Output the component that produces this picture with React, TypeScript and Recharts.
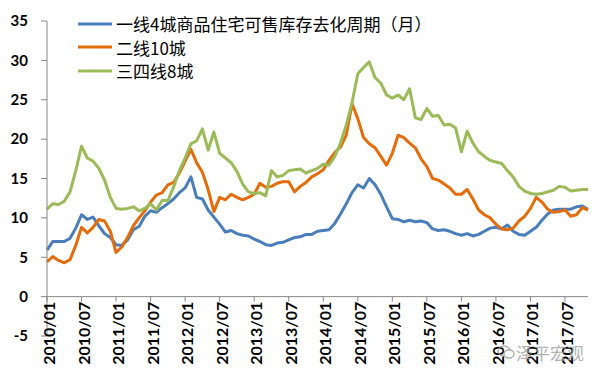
import React from 'react';
import { LineChart, Line, XAxis, YAxis, ReferenceLine, Legend } from 'recharts';

const MONTHS: string[] = [
  '2010/01','2010/02','2010/03','2010/04','2010/05','2010/06','2010/07','2010/08','2010/09','2010/10','2010/11','2010/12',
  '2011/01','2011/02','2011/03','2011/04','2011/05','2011/06','2011/07','2011/08','2011/09','2011/10','2011/11','2011/12',
  '2012/01','2012/02','2012/03','2012/04','2012/05','2012/06','2012/07','2012/08','2012/09','2012/10','2012/11','2012/12',
  '2013/01','2013/02','2013/03','2013/04','2013/05','2013/06','2013/07','2013/08','2013/09','2013/10','2013/11','2013/12',
  '2014/01','2014/02','2014/03','2014/04','2014/05','2014/06','2014/07','2014/08','2014/09','2014/10','2014/11','2014/12',
  '2015/01','2015/02','2015/03','2015/04','2015/05','2015/06','2015/07','2015/08','2015/09','2015/10','2015/11','2015/12',
  '2016/01','2016/02','2016/03','2016/04','2016/05','2016/06','2016/07','2016/08','2016/09','2016/10','2016/11','2016/12',
  '2017/01','2017/02','2017/03','2017/04','2017/05','2017/06','2017/07','2017/08','2017/09','2017/10','2017/11',
];

const TIER1: number[] = [
  5.9, 7.0, 7.0, 7.0, 7.4, 8.7, 10.4, 9.8, 10.1, 9.0, 8.0, 7.5,
  6.6, 6.5, 7.2, 8.5, 8.9, 10.2, 10.9, 10.7, 11.3, 11.8, 12.4, 13.2,
  13.8, 15.2, 12.6, 12.4, 11.0, 10.1, 9.2, 8.2, 8.4, 8.0, 7.8, 7.7,
  7.3, 7.0, 6.6, 6.5, 6.8, 6.9, 7.2, 7.5, 7.6, 7.9, 7.9, 8.3,
  8.4, 8.5, 9.3, 10.5, 11.8, 13.2, 14.2, 13.8, 15.0, 14.2, 13.0, 11.4,
  9.9, 9.8, 9.5, 9.7, 9.5, 9.6, 9.4, 8.6, 8.4, 8.5, 8.3, 8.0,
  7.8, 8.0, 7.7, 7.9, 8.3, 8.7, 8.8, 8.6, 9.1, 8.3, 7.9, 7.8,
  8.3, 8.8, 9.7, 10.5, 11.0, 11.1, 11.1, 11.1, 11.4, 11.5, 11.1,
];

const TIER2: number[] = [
  4.4, 5.1, 4.6, 4.3, 4.7, 6.5, 8.8, 8.1, 8.8, 9.8, 9.6, 8.3,
  5.6, 6.3, 7.5, 9.0, 10.0, 10.9, 12.0, 12.9, 13.2, 14.2, 14.5, 15.7,
  17.2, 18.7, 17.0, 15.8, 13.6, 10.8, 12.6, 12.3, 13.0, 12.6, 12.3, 12.6,
  13.0, 14.4, 13.9, 14.0, 14.4, 14.6, 14.6, 13.3, 14.0, 14.5, 15.2, 15.6,
  16.1, 17.3, 18.3, 19.0, 20.5, 24.5, 22.6, 20.2, 19.4, 18.9, 17.8, 16.7,
  18.2, 20.5, 20.2, 19.5, 18.9, 17.5, 16.5, 15.0, 14.8, 14.3, 13.8, 13.0,
  13.0, 13.6, 12.4, 11.0, 10.4, 10.0, 9.2, 8.6, 8.5, 8.7, 9.6, 10.2,
  11.2, 12.6, 12.0, 11.1, 10.7, 10.8, 11.0, 10.2, 10.4, 11.3, 11.0,
];

const TIER34: number[] = [
  11.1, 11.8, 11.7, 12.1, 13.3, 16.0, 19.1, 17.6, 17.2, 16.3, 14.8, 12.6,
  11.2, 11.1, 11.2, 11.4, 10.9, 11.2, 11.8, 11.0, 12.2, 12.2, 13.9, 16.0,
  17.6, 19.4, 19.8, 21.3, 18.6, 20.9, 18.2, 17.6, 17.0, 15.9, 14.3, 13.3,
  13.1, 13.2, 12.8, 16.0, 15.2, 15.4, 16.0, 16.1, 16.2, 15.7, 16.0, 16.3,
  16.8, 16.7, 17.8, 19.5, 21.8, 24.6, 28.3, 29.1, 29.8, 27.8, 27.1, 25.6,
  25.2, 25.6, 25.0, 26.4, 22.7, 22.5, 23.9, 22.9, 23.0, 21.8, 21.9, 21.4,
  18.4, 21.0, 19.5, 18.4, 17.8, 17.3, 17.1, 16.9, 16.0, 15.2, 14.0, 13.4,
  13.1, 13.0, 13.1, 13.3, 13.5, 14.0, 13.9, 13.4, 13.5, 13.6, 13.6,
];

const SERIES_NAMES: string[] = ['一线4城商品住宅可售库存去化周期（月）', '二线10城', '三四线8城'];
const SERIES_COLORS: string[] = ['#4A7EBB', '#E46C0A', '#9BBB59'];
const Y_TICKS: number[] = [-5, 0, 5, 10, 15, 20, 25, 30, 35];

const data = MONTHS.map((m, i) => ({ month: m, t1: TIER1[i], t2: TIER2[i], t34: TIER34[i] }));

const W = 600;
const H = 379;
const M = { top: 21, right: 12, bottom: 0, left: 7 };
const XAXIS_H = 43;
const YAXIS_W = 40;
const Y_MIN = Y_TICKS[0];
const Y_MAX = Y_TICKS[Y_TICKS.length - 1];
const PLOT_H = H - M.top - M.bottom - XAXIS_H;
const ZERO_OFFSET = (PLOT_H * (0 - Y_MIN)) / (Y_MAX - Y_MIN);
const AXIS_COLOR = '#868686';
const LABEL_FONT = 'Lato, "Noto Sans", sans-serif';

const XTick = (props: any) => {
  const { x, y, payload } = props;
  const zy = y - ZERO_OFFSET;
  const ty = zy + 5;
  return (
    <g>
      <line x1={x} y1={zy} x2={x} y2={zy + 5} stroke={AXIS_COLOR} strokeWidth={1} />
      <text
        x={x}
        y={ty}
        transform={`rotate(-90 ${x} ${ty})`}
        textAnchor="end"
        dy="0.5em"
        fontFamily={LABEL_FONT}
        fontWeight={700}
        fontSize={16}
        fill="#000"
      >
        {payload.value}
      </text>
    </g>
  );
};

const renderLegend = (props: any) => {
  const entries = [...(props.payload || [])].sort(
    (a: any, b: any) => SERIES_NAMES.indexOf(a.value) - SERIES_NAMES.indexOf(b.value)
  );
  return (
    <div style={{ display: 'flex', flexDirection: 'column' }}>
      {entries.map((e: any, i: number) => (
        <div key={i} style={{ display: 'flex', alignItems: 'center', height: 23.5 }}>
          <svg width={34} height={6} style={{ display: 'block' }}>
            <line x1={0} y1={3} x2={34} y2={3} stroke={e.color} strokeWidth={3} />
          </svg>
          <span
            style={{
              marginLeft: 4,
              fontSize: 17,
              fontFamily: '"Noto Sans CJK SC", sans-serif',
              color: '#000',
              lineHeight: 1,
              whiteSpace: 'nowrap',
            }}
          >
            {e.value}
          </span>
        </div>
      ))}
    </div>
  );
};

export default function App() {
  return (
    <div style={{ position: 'absolute', left: 0, top: 0, width: W, height: H, background: '#fff' }}>
      <LineChart width={W} height={H} data={data} margin={M}>
        <XAxis
          dataKey="month"
          interval={5}
          height={XAXIS_H}
          axisLine={false}
          tickLine={false}
          tickSize={0}
          tickMargin={0}
          tick={<XTick />}
        />
        <YAxis
          domain={[Y_MIN, Y_MAX]}
          ticks={Y_TICKS}
          width={YAXIS_W}
          axisLine={{ stroke: AXIS_COLOR }}
          tickLine={{ stroke: AXIS_COLOR }}
          tickSize={6}
          tickMargin={13}
          interval={0}
          tick={{ fontFamily: LABEL_FONT, fontWeight: 700, fontSize: 15, fill: '#000' }}
        />
        <ReferenceLine y={0} stroke={AXIS_COLOR} strokeWidth={1} />
        <Legend
          layout="vertical"
          align="center"
          verticalAlign="middle"
          content={renderLegend}
          wrapperStyle={{ left: 78, top: 12, width: 'auto', height: 'auto' }}
        />
        <Line type="linear" dataKey="t1" name={SERIES_NAMES[0]} stroke={SERIES_COLORS[0]} strokeWidth={3} dot={false} isAnimationActive={false} strokeLinejoin="round" />
        <Line type="linear" dataKey="t2" name={SERIES_NAMES[1]} stroke={SERIES_COLORS[1]} strokeWidth={3} dot={false} isAnimationActive={false} strokeLinejoin="round" />
        <Line type="linear" dataKey="t34" name={SERIES_NAMES[2]} stroke={SERIES_COLORS[2]} strokeWidth={3} dot={false} isAnimationActive={false} strokeLinejoin="round" />
      </LineChart>
      <div
        style={{
          position: 'absolute',
          left: 497,
          top: 343,
          display: 'flex',
          alignItems: 'center',
          pointerEvents: 'none',
          opacity: 0.8,
        }}
      >
        <svg width={18} height={18} style={{ display: 'block' }}>
          <ellipse cx={7} cy={8} rx={6} ry={5} fill="none" stroke="#9a9a9a" strokeWidth={1.4} />
          <ellipse cx={12} cy={11} rx={5} ry={4} fill="#fff" stroke="#9a9a9a" strokeWidth={1.4} />
        </svg>
        <span style={{ marginLeft: 1, fontSize: 17, fontFamily: '"Noto Sans CJK SC", sans-serif', color: '#a0a0a0', lineHeight: 1 }}>
          泽平宏观
        </span>
      </div>
    </div>
  );
}
